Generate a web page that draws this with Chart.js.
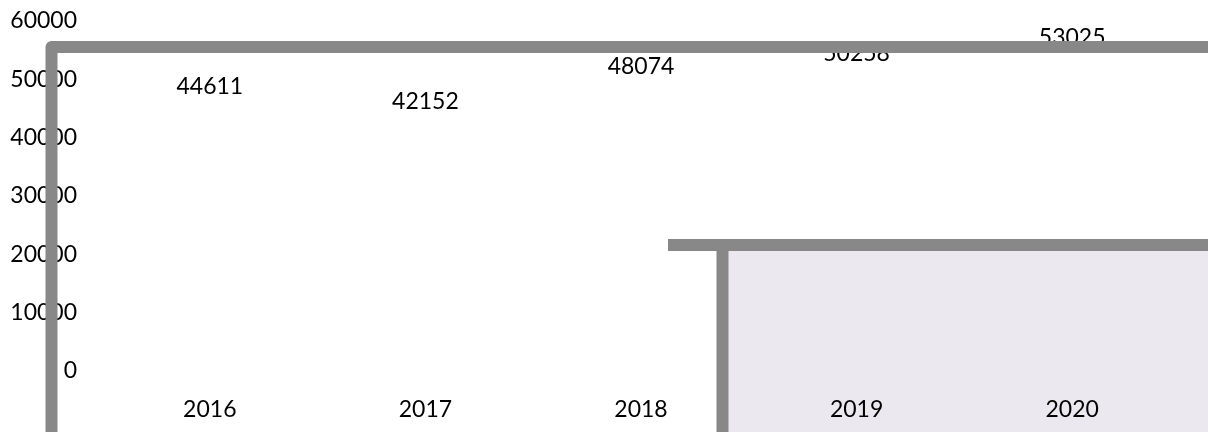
<!DOCTYPE html>
<html>
<head>
<meta charset="utf-8">
<script src="https://cdn.jsdelivr.net/npm/chart.js@4/dist/chart.umd.min.js"></script>
<style>
  html, body { margin: 0; padding: 0; background: #fff; }
  #wrap { width: 1208px; height: 432px; position: relative; }
</style>
</head>
<body>
<div id="wrap"><canvas id="c"></canvas></div>
<script>
// data
const years = ['2016', '2017', '2018', '2019', '2020'];
const values = [44611, 42152, 48074, 50258, 53025];
const yTicks = [0, 10000, 20000, 30000, 40000, 50000, 60000];

const FONT = 'Lato, "Open Sans", sans-serif';
const LINE_GREY = '#888888';
const PANEL_FILL = '#ebe9ef';

// the grey frames on top of the chart (pure decoration, canvas pixels)
function drawFrames(chart, fillOnly) {
    const ctx = chart.ctx;
    const W = chart.width, H = chart.height;
    ctx.save();
    if (fillOnly) {
        ctx.fillStyle = PANEL_FILL;
        ctx.fillRect(728, 251, W - 728, H - 251);
        ctx.restore();
        return;
    }
    ctx.strokeStyle = LINE_GREY;
    ctx.lineWidth = 12;
    ctx.lineJoin = 'round';
    // big frame
    ctx.beginPath();
    ctx.moveTo(51.5, H + 10);
    ctx.lineTo(51.5, 47);
    ctx.lineTo(W + 10, 47);
    ctx.stroke();
    // small panel frame
    ctx.lineJoin = 'miter';
    ctx.beginPath();
    ctx.moveTo(668, 245);
    ctx.lineTo(W + 10, 245);
    ctx.stroke();
    ctx.beginPath();
    ctx.moveTo(722.5, 239);
    ctx.lineTo(722.5, H + 10);
    ctx.stroke();
    ctx.restore();
}

const decor = {
    id: 'decor',
    beforeDraw(chart) { drawFrames(chart, true); },
    afterDatasetsDraw(chart) {
        // value labels above each point
        const ctx = chart.ctx;
        const meta = chart.getDatasetMeta(0);
        ctx.save();
        ctx.font = '23px ' + FONT;
        ctx.fillStyle = '#000';
        ctx.textAlign = 'center';
        ctx.textBaseline = 'middle';
        meta.data.forEach((pt, i) => {
            ctx.fillText(String(values[i]), pt.x, pt.y - 24);
        });
        ctx.restore();
    },
    afterDraw(chart) { drawFrames(chart, false); }
};

new Chart(document.getElementById('c'), {
    type: 'line',
    data: {
        labels: years,
        datasets: [{
            data: values,
            showLine: false,
            pointRadius: 0,
            borderColor: 'rgba(0,0,0,0)',
            backgroundColor: 'rgba(0,0,0,0)'
        }]
    },
    options: {
        responsive: true,
        maintainAspectRatio: false,
        animation: false,
        layout: { padding: { top: 21, right: 28, left: 0, bottom: 0 } },
        plugins: { legend: { display: false }, tooltip: { enabled: false } },
        scales: {
            x: {
                offset: true,
                grid: { display: false, drawTicks: false },
                border: { display: false },
                ticks: { color: '#000', font: { family: FONT, size: 23 }, padding: 25, maxRotation: 0 },
                afterFit(s) { s.height = 61; s.paddingLeft = 0; s.paddingRight = 0; }
            },
            y: {
                min: yTicks[0],
                max: yTicks[yTicks.length - 1],
                afterBuildTicks(s) { s.ticks = yTicks.map(v => ({ value: v })); },
                grid: { display: false, drawTicks: false },
                border: { display: false },
                ticks: {
                    color: '#000',
                    font: { family: FONT, size: 23 },
                    padding: 25,
                    callback: v => String(v)
                },
                afterFit(s) { s.width = 102; s.paddingTop = 0; s.paddingBottom = 0; }
            }
        }
    },
    plugins: [decor]
});
</script>
</body>
</html>
